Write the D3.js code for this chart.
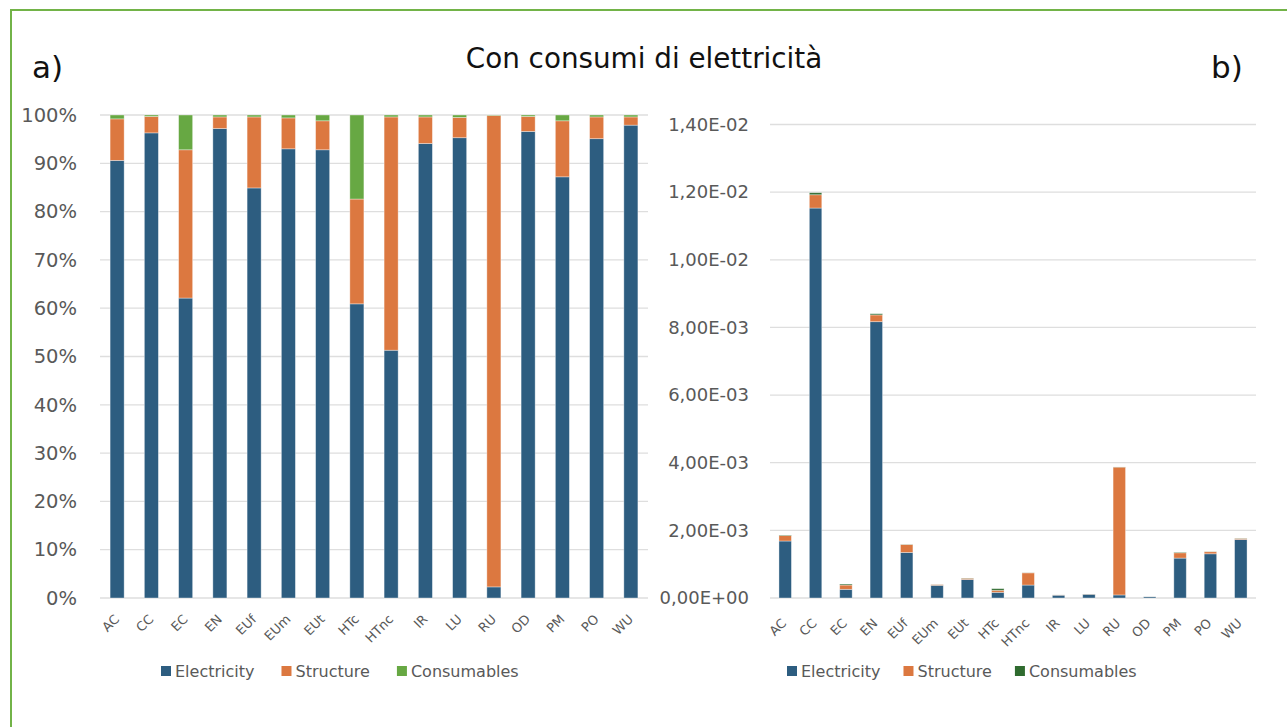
<!DOCTYPE html>
<html>
<head>
<meta charset="utf-8">
<script src="https://cdn.jsdelivr.net/npm/d3@7"></script>
<style>
  html, body { margin: 0; padding: 0; background: #fff; }
  svg { display: block; font-family: "DejaVu Sans", Arial, sans-serif; }
</style>
</head>
<body>
<svg id="chart" width="1287" height="727"></svg>
<script>
// Impact categories
const categories = ["AC","CC","EC","EN","EUf","EUm","EUt","HTc","HTnc","IR","LU","RU","OD","PM","PO","WU"];

// a) relative contribution (%)
const shareElectricity = [90.6, 96.3, 62.1, 97.2, 84.9, 93.0, 92.8, 60.9, 51.3, 94.1, 95.3, 2.3, 96.6, 87.2, 95.1, 97.9];
const shareStructure   = [8.6, 3.4, 30.7, 2.4, 14.7, 6.4, 6.0, 21.7, 48.3, 5.5, 4.2, 97.6, 3.1, 11.6, 4.5, 1.7];
const shareConsumables = [0.8, 0.3, 7.2, 0.4, 0.4, 0.6, 1.2, 17.4, 0.4, 0.4, 0.5, 0.1, 0.3, 1.2, 0.4, 0.4];

// b) absolute contribution
const absElectricity = [1.685e-3, 1.153e-2, 2.56e-4, 8.17e-3, 1.347e-3, 3.75e-4, 5.48e-4, 1.68e-4, 3.83e-4, 8.5e-5, 1.12e-4, 9.0e-5, 3.9e-5, 1.18e-3, 1.307e-3, 1.731e-3];
const absStructure   = [1.6e-4, 3.93e-4, 1.27e-4, 2.0e-4, 2.33e-4, 2.6e-5, 3.5e-5, 6.0e-5, 3.61e-4, 5e-6, 5e-6, 3.78e-3, 1.3e-6, 1.57e-4, 6.2e-5, 3.0e-5];
const absConsumables = [1.5e-5, 6.0e-5, 3.0e-5, 3.5e-5, 6.4e-6, 2.4e-6, 7e-6, 4.8e-5, 3e-6, 1e-6, 1e-6, 4e-6, 1e-6, 1.6e-5, 5e-6, 7e-6];

const seriesNames = ["Electricity", "Structure", "Consumables"];
const leftTicks = [0, 10, 20, 30, 40, 50, 60, 70, 80, 90, 100];
const rightTicks = [0, 0.002, 0.004, 0.006, 0.008, 0.010, 0.012, 0.014];

const colElec = "#2d5d80", colStruct = "#dc7840", colConsA = "#67a843", colConsB = "#2f6b2f";
const gridColor = "#dedede", textColor = "#595959";
const FONT = "DejaVu Sans, Arial, sans-serif";

const svg = d3.select("#chart");

// frame
svg.append("rect").attr("x", 11).attr("y", 10).attr("width", 1290).attr("height", 730)
  .attr("fill", "none").attr("stroke", "#72b348").attr("stroke-width", 2);

svg.append("text").attr("x", 644).attr("y", 68).attr("text-anchor", "middle")
  .attr("font-size", 27.8).attr("fill", "#111").text("Con consumi di elettricità");
svg.append("text").attr("x", 32).attr("y", 78).attr("font-size", 31).attr("fill", "#111").text("a)");
svg.append("text").attr("x", 1211).attr("y", 78).attr("font-size", 31).attr("fill", "#111").text("b)");

function rows(e, s, c) {
  return categories.map((cat, i) => ({ cat, Electricity: e[i], Structure: s[i], Consumables: c[i] }));
}

function drawPanel(opt) {
  const g = svg.append("g");
  const x = d3.scaleBand().domain(categories).range([opt.x0, opt.x1]).paddingInner(opt.pad).paddingOuter(opt.pad / 2);
  const y = d3.scaleLinear().domain(opt.domain).range([opt.yBottom, opt.yTop]);

  // gridlines
  g.append("g").selectAll("line").data(opt.ticks).join("line")
    .attr("x1", opt.x0).attr("x2", opt.x1)
    .attr("y1", d => y(d)).attr("y2", d => y(d))
    .attr("stroke", gridColor).attr("stroke-width", 1.3);

  // y axis labels
  const ya = d3.axisLeft(y).tickValues(opt.ticks).tickFormat(opt.fmt).tickSize(0).tickPadding(0);
  const yg = g.append("g").attr("transform", `translate(${opt.labelX},0)`).call(ya);
  yg.select(".domain").remove();
  yg.selectAll("text").attr("font-size", opt.yFont).attr("fill", textColor).attr("font-family", FONT);

  // stacked bars
  const stack = d3.stack().keys(seriesNames)(opt.data);
  const colors = { Electricity: colElec, Structure: colStruct, Consumables: opt.consColor };
  stack.forEach(layer => {
    g.append("g").selectAll("rect").data(layer).join("rect")
      .attr("x", d => x(d.data.cat))
      .attr("width", x.bandwidth())
      .attr("y", d => y(d[1]))
      .attr("height", d => Math.max(0, y(d[0]) - y(d[1])))
      .attr("fill", colors[layer.key])
      .attr("stroke", "rgba(255,255,255,0.45)").attr("stroke-width", 0.8);
  });

  // x axis labels, rotated
  const xa = d3.axisBottom(x).tickSize(0).tickPadding(0);
  const xg = g.append("g").attr("transform", `translate(0,${opt.yBottom})`).call(xa);
  xg.select(".domain").remove();
  xg.selectAll("text")
    .attr("font-size", opt.xFont).attr("fill", textColor).attr("font-family", FONT)
    .attr("text-anchor", "end")
    .attr("dy", 0)
    .attr("transform", `translate(${opt.xLabelDx},${opt.xLabelDy}) rotate(-45)`);

  // legend
  const lg = g.append("g").attr("transform", `translate(${opt.legendX},${opt.legendY})`);
  let cx = 0;
  seriesNames.forEach(name => {
    const item = lg.append("g").attr("transform", `translate(${cx},0)`);
    item.append("rect").attr("x", 0).attr("y", -5).attr("width", 10).attr("height", 10)
      .attr("fill", colors[name]);
    const t = item.append("text").attr("x", 14).attr("y", 0).attr("dy", "0.36em")
      .attr("font-size", opt.legFont).attr("fill", textColor).text(name);
    cx += 14 + t.node().getComputedTextLength() + opt.legGap;
  });
}

drawPanel({
  x0: 100, x1: 648, pad: 0.59, yTop: 115, yBottom: 598, domain: [0, 100],
  ticks: leftTicks, fmt: d => d + "%", labelX: 77, yFont: 19.5, xFont: 13, xLabelDx: 3, xLabelDy: 22,
  data: rows(shareElectricity, shareStructure, shareConsumables), consColor: colConsA,
  legendX: 161, legendY: 671, legFont: 16, legGap: 27
});

drawPanel({
  x0: 770, x1: 1256, pad: 0.59, yTop: 124.5, yBottom: 598, domain: [0, 0.014],
  ticks: rightTicks, fmt: d => d3.format(".2e")(d).replace(".", ",").replace(/e([+-])(\d)$/, "E$10$2").replace("e", "E"),
  labelX: 749, yFont: 18, xFont: 13, xLabelDx: 2, xLabelDy: 26,
  data: rows(absElectricity, absStructure, absConsumables), consColor: colConsB,
  legendX: 787, legendY: 671, legFont: 16, legGap: 23
});
</script>
</body>
</html>
